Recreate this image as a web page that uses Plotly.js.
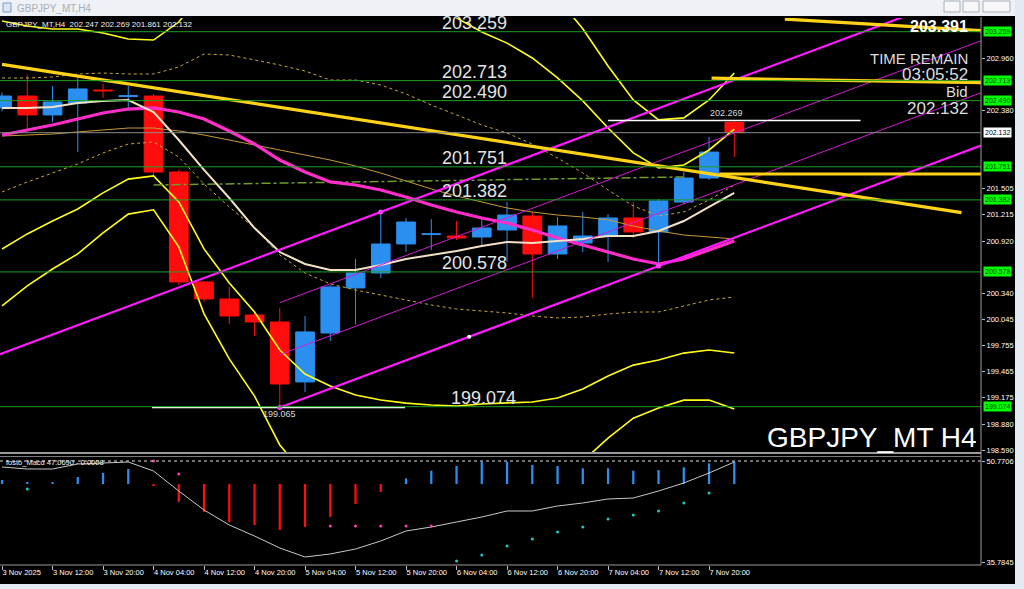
<!DOCTYPE html>
<html><head><meta charset="utf-8">
<script src="https://cdn.plot.ly/plotly-3.0.1.min.js"></script>
<style>html,body{margin:0;padding:0;background:#000;overflow:hidden}#chart{width:1024px;height:589px}</style>
</head><body><div id="chart"></div>
<script>
// ---------- data ----------
const xTickBars = [0,2,4,6,8,10,12,14,16,18,20,22,24,26,28];
const xTickLabels = ["3 Nov 2025","3 Nov 12:00","3 Nov 20:00","4 Nov 04:00","4 Nov 12:00","4 Nov 20:00","5 Nov 04:00","5 Nov 12:00","5 Nov 20:00","6 Nov 04:00","6 Nov 12:00","6 Nov 20:00","7 Nov 04:00","7 Nov 12:00","7 Nov 20:00"];

const candleOpen  = [202.408,202.541,202.330,202.463,202.608,202.535,202.541,201.693,200.466,200.276,200.097,200.019,199.350,199.896,200.399,200.566,200.890,200.995,200.979,200.968,201.046,201.202,200.778,200.901,200.979,201.180,201.024,201.358,201.626,202.247];
const candleHigh  = [202.580,202.776,202.653,202.742,202.675,202.653,202.564,201.720,200.477,200.410,200.131,200.175,200.086,200.432,200.722,201.247,201.180,201.169,201.146,201.169,201.358,201.247,201.191,201.247,201.225,201.358,201.392,201.693,202.084,202.269];
const candleLow   = [202.370,202.162,202.251,201.916,202.519,202.386,201.660,200.432,200.243,199.997,199.862,199.065,199.238,199.807,199.991,200.510,200.800,200.823,200.934,200.856,200.689,200.287,200.722,200.800,200.689,200.957,200.633,201.336,201.604,201.861];
const candleClose = [202.541,202.330,202.475,202.620,202.597,202.546,201.693,200.466,200.276,200.086,200.019,199.327,199.908,200.410,200.566,200.890,201.135,201.005,200.957,201.068,201.213,200.778,201.091,200.979,201.180,201.024,201.370,201.626,201.916,202.132];

const maMid  = [202.106,202.162,202.218,202.285,202.352,202.396,202.408,202.363,202.285,202.151,202.006,201.827,201.693,201.582,201.548,201.492,201.414,201.325,201.247,201.180,201.124,201.046,200.957,200.879,200.800,200.722,200.667,200.722,200.823,200.923];
const maSlow = [202.095,202.106,202.117,202.140,202.162,202.184,202.184,202.151,202.106,202.050,201.995,201.939,201.883,201.827,201.760,201.682,201.593,201.504,201.425,201.358,201.292,201.247,201.213,201.191,201.158,201.091,201.035,200.990,200.968,200.946];
const maFast = [202.408,202.408,202.419,202.463,202.486,202.497,202.363,202.050,201.716,201.403,201.068,200.800,200.667,200.600,200.600,200.655,200.722,200.767,200.812,200.867,200.912,200.901,200.923,200.946,200.979,200.979,201.035,201.146,201.303,201.459];

const bandOuterUpper = [204.014,203.902,203.826,203.791,203.690,203.569,203.545,203.869,204.460,204.695,204.820,205.007,205.074,204.996,205.064,205.008,204.864,204.673,204.496,204.294,204.136,203.926,203.636,203.291,202.876,202.498,202.275,202.297,202.497,202.798];
const bandInnerUpper = [203.378,203.322,203.290,203.289,203.244,203.178,203.166,203.367,203.735,203.847,203.882,203.947,203.947,203.858,203.892,203.836,203.714,203.557,203.413,203.256,203.132,202.966,202.743,202.487,202.184,201.906,201.739,201.772,201.939,202.173];
const dotUpper = [202.742,202.742,202.754,202.787,202.798,202.787,202.787,202.865,203.010,202.999,202.944,202.887,202.820,202.720,202.720,202.664,202.564,202.441,202.330,202.218,202.128,202.006,201.850,201.683,201.492,201.314,201.203,201.247,201.381,201.548];
const dotLower = [201.470,201.582,201.682,201.783,201.906,202.005,202.029,201.861,201.560,201.303,201.068,200.767,200.566,200.444,200.376,200.320,200.264,200.209,200.164,200.142,200.120,200.086,200.064,200.075,200.108,200.130,200.131,200.197,200.265,200.298];
const bandInnerLower = [200.834,201.002,201.146,201.281,201.460,201.614,201.650,201.359,200.835,200.455,200.130,199.707,199.439,199.306,199.204,199.148,199.114,199.093,199.081,199.104,199.116,199.126,199.171,199.271,199.416,199.538,199.595,199.672,199.707,199.673];
const bandOuterLower = [200.198,200.422,200.610,200.779,201.014,201.223,201.271,200.857,200.110,199.607,199.192,198.647,198.312,198.168,198.032,197.976,197.964,197.977,197.998,198.066,198.112,198.166,198.278,198.467,198.724,198.946,199.059,199.147,199.149,199.048];

// drawn objects: [bar, price] end points
const trendBars = [0, 38], trendPrices = [202.895, 201.240];
const goldTopBars = [31, 38.77], goldTopPrices = [203.40, 203.27];
const goldMidBars = [28.1, 38.77], goldMidPrices = [202.740, 202.690];
const goldLowBars = [28.4, 38.77], goldLowPrices = [201.671, 201.671];
const dashDotBars = [6, 27], dashDotPrices = [201.548, 201.638];
const chanUpperBars = [-0.08, 38.77], chanUpperPrices = [199.660, 203.749];
const chanLowerBars = [11, 38.77], chanLowerPrices = [199.065, 201.988];
const chanThin1Bars = [11, 38.77], chanThin1Prices = [200.235, 203.158];
const chanThin2Bars = [11, 38.77], chanThin2Prices = [199.655, 202.578];
const chanDotBars = [15, 26, 11], chanDotPrices = [201.247, 200.644, 199.065];
const midDotBars = [18.5], midDotPrices = [199.855];
const highLineBars = [24, 34], highLinePrice = 202.269;
const lowLineBars = [5.94, 15.96], lowLinePrice = 199.065;

const levelPrices = [203.259, 202.713, 202.490, 201.751, 201.382, 200.578, 199.074];
const levelLabels = ["203.259","202.713","202.490","201.751","201.382","200.578","199.074"];
const bidPrice = 202.132;
// scale values that are not covered by the price boxes
const priceTicks = [202.960,202.380,201.505,201.215,200.920,200.340,200.045,199.755,199.465,199.175,198.880,198.590];

const macdTicks = [50.7706, 35.7845];
const macdZero = 47.36;
const macdHist = [47.952,47.655,47.655,48.397,48.990,49.584,47.061,44.687,43.204,41.720,41.275,40.533,40.978,42.462,44.391,46.171,48.204,49.331,50.029,50.667,50.667,50.177,50.029,49.687,49.687,49.331,49.435,49.836,50.429,50.667];
const macdSignal = [49.880,49.584,49.584,50.326,50.474,50.622,49.287,46.320,43.501,41.275,39.643,37.863,36.528,36.973,37.715,38.902,40.385,40.979,41.721,42.462,43.352,43.352,44.094,44.540,45.133,45.281,46.320,47.507,48.990,50.622];
const cyanDotBars = [1,18,19,20,21,22,23,24,25,26,27,28];
const cyanDotVals = [46.616,35.934,36.824,38.160,39.198,40.237,40.979,42.166,42.759,43.352,44.540,46.023];
const pinkDotBars = [6,7,13,14,15,16,17];
const pinkDotVals = [50.77,48.842,41.127,41.127,41.127,41.127,41.127];

const headerText = "GBPJPY_MT,H4  202.247 202.269 201.861 202.132";
const windowTitle = "GBPJPY_MT,H4";
const infoTop = "203.391";
const infoLines = ["TIME REMAIN","03:05:52","Bid","202.132"];
const symbolText = "GBPJPY_MT H4";
const macdLabel = "fosto_Macd 47.0690 - 0.0008";

// ---------- helpers ----------
const W = 1024, H = 589;
const px = x => x / W, py = y => 1 - y / H;
const FONT = "Liberation Sans, Arial, sans-serif";
const bars = candleOpen.map((_, i) => i);
const isUp = i => candleClose[i] >= candleOpen[i];
const BLUE = "#2b8ff0", RED = "#ff0d0d";

function wick(filter){
  const xs = [], ys = [];
  bars.forEach(i => { if (filter(i)) { xs.push(i, i, null); ys.push(candleLow[i], candleHigh[i], null); } });
  return {xs, ys};
}
function body(filter){
  const xs = [], base = [], len = [];
  bars.forEach(i => { if (filter(i)) { xs.push(i); base.push(Math.min(candleOpen[i], candleClose[i])); len.push(Math.max(Math.abs(candleClose[i]-candleOpen[i]), 0.004)); } });
  return {xs, base, len};
}
const wu = wick(isUp), wd = wick(i => !isUp(i));
const bu = body(isUp), bd = body(i => !isUp(i));
const line = (x, y, color, width, dash, ya) => ({type:"scatter", mode:"lines", x, y, xaxis:"x", yaxis: ya || "y", line:{color, width, dash: dash || "solid"}, hoverinfo:"skip", connectgaps:false});

const traces = [
  line(wu.xs, wu.ys, BLUE, 1),
  line(wd.xs, wd.ys, RED, 1),
  {type:"bar", x:bu.xs, base:bu.base, y:bu.len, width:0.74, marker:{color:BLUE, line:{color:BLUE, width:1}}, xaxis:"x", yaxis:"y", hoverinfo:"skip"},
  {type:"bar", x:bd.xs, base:bd.base, y:bd.len, width:0.74, marker:{color:RED, line:{color:RED, width:1}}, xaxis:"x", yaxis:"y", hoverinfo:"skip"},
  line(bars, dotUpper, "#c9a838", 1, "dot"),
  line(bars, dotLower, "#c9a838", 1, "dot"),
  line(bars, bandInnerUpper, "#ffff1a", 1.6),
  line(bars, bandInnerLower, "#ffff1a", 1.6),
  line(bars, bandOuterUpper, "#ffff1a", 1.6),
  line(bars, bandOuterLower, "#ffff1a", 1.6),
  line(bars, maSlow, "#c79a3a", 1),
  line(dashDotBars, dashDotPrices, "#6f9a2c", 1.5, "dashdot"),
  line(bars, maMid, "#ff2ec8", 3.2),
  line(bars, maFast, "#f3e3c6", 2),
  line(chanUpperBars, chanUpperPrices, "#ff1aff", 2.2),
  line(chanLowerBars, chanLowerPrices, "#ff1aff", 2.2),
  line(chanThin1Bars, chanThin1Prices, "#d21ad2", 1),
  line(chanThin2Bars, chanThin2Prices, "#d21ad2", 1),
  line(trendBars, trendPrices, "#ffd21a", 3.2),
  line(goldTopBars, goldTopPrices, "#ffd21a", 3.2),
  line(goldMidBars, goldMidPrices, "#ffd21a", 3.2),
  line(goldLowBars, goldLowPrices, "#ffd21a", 3.2),
  line(highLineBars, [highLinePrice, highLinePrice], "#ffffff", 1.5),
  line(lowLineBars, [lowLinePrice, lowLinePrice], "#ffffff", 1.5),
  {type:"scatter", mode:"markers", x:chanDotBars, y:chanDotPrices, marker:{color:"#ff40ff", size:5}, xaxis:"x", yaxis:"y", hoverinfo:"skip"},
  {type:"scatter", mode:"markers", x:midDotBars, y:midDotPrices, marker:{color:"#ffffff", size:4}, xaxis:"x", yaxis:"y", hoverinfo:"skip"},
  // MACD pane
  {type:"bar", x:bars, base:macdHist.map(() => macdZero), y:macdHist.map(v => v - macdZero), width:0.09,
   marker:{color:macdHist.map(v => v >= macdZero ? BLUE : RED)}, xaxis:"x", yaxis:"y2", hoverinfo:"skip"},
  line(bars, macdSignal, "#c8c8c8", 1, "solid", "y2"),
  {type:"scatter", mode:"markers", x:cyanDotBars, y:cyanDotVals, marker:{color:"#1fc8c8", size:3}, xaxis:"x", yaxis:"y2", hoverinfo:"skip"},
  {type:"scatter", mode:"markers", x:pinkDotBars, y:pinkDotVals, marker:{color:"#ff3fb0", size:3}, xaxis:"x", yaxis:"y2", hoverinfo:"skip"}
];

const XR = 981 / W;
const shapes = [];
levelPrices.forEach(p => shapes.push({type:"line", xref:"paper", yref:"y", x0:0, x1:XR, y0:p, y1:p, line:{color:"#1f9f1f", width:1}}));
shapes.push({type:"line", xref:"paper", yref:"y", x0:0, x1:XR, y0:bidPrice, y1:bidPrice, line:{color:"#8a8a8a", width:1}});
shapes.push({type:"line", xref:"paper", yref:"y2", x0:0, x1:XR, y0:macdTicks[0], y1:macdTicks[0], line:{color:"#e0e0e0", width:1, dash:"dot"}});
// pane frames
shapes.push({type:"line", xref:"paper", yref:"paper", x0:0, x1:XR, y0:py(453), y1:py(453), line:{color:"#9a9a9a", width:2}});
shapes.push({type:"line", xref:"paper", yref:"paper", x0:0, x1:XR, y0:py(456.5), y1:py(456.5), line:{color:"#7a7a7a", width:1}});
shapes.push({type:"line", xref:"paper", yref:"paper", x0:0, x1:XR, y0:py(565), y1:py(565), line:{color:"#9a9a9a", width:1}});
shapes.push({type:"line", xref:"paper", yref:"paper", x0:XR, x1:XR, y0:py(565), y1:py(17), line:{color:"#9a9a9a", width:1}});
// window chrome
shapes.push({type:"rect", xref:"paper", yref:"paper", x0:0, x1:1, y0:py(16), y1:1, fillcolor:"#eef1f5", line:{width:0}});
shapes.push({type:"rect", xref:"paper", yref:"paper", x0:px(1015), x1:1, y0:0, y1:1, fillcolor:"#e3eaf2", line:{width:0}});
shapes.push({type:"rect", xref:"paper", yref:"paper", x0:0, x1:1, y0:0, y1:py(584), fillcolor:"#e3eaf2", line:{width:0}});
shapes.push({type:"rect", xref:"paper", yref:"paper", x0:px(3), x1:px(11), y0:py(12), y1:py(3), fillcolor:"#dbe6f3", line:{color:"#7a9cc8", width:1}});
[[944,960],[963,979],[983,1010]].forEach(b => shapes.push({type:"rect", xref:"paper", yref:"paper", x0:px(b[0]), x1:px(b[1]), y0:py(12), y1:py(1), fillcolor:"#f7f7f7", line:{color:"#a8b0b8", width:1}}));

const ann = [];
const txt = (o) => Object.assign({showarrow:false, font:{family:FONT, size:7, color:"#ffffff"}}, o);
ann.push(txt({xref:"paper", yref:"paper", x:px(15), y:py(8), xanchor:"left", yanchor:"middle", text:windowTitle, font:{family:FONT, size:10, color:"#a9afb6"}}));
ann.push(txt({xref:"paper", yref:"paper", x:px(4), y:py(25), xanchor:"left", yanchor:"middle", text:headerText, font:{family:FONT, size:8, color:"#f0f0f0"}}));
levelPrices.forEach((p, k) => {
  ann.push(txt({xref:"x", yref:"y", x: k === 6 ? 19.05 : 18.73, y:p, yshift:9, xanchor:"center", yanchor:"middle", text:levelLabels[k], font:{family:FONT, size:18, color:"#e4e4e4"}}));
  ann.push(txt({xref:"paper", yref:"y", x:px(983), y:p, xanchor:"left", yanchor:"middle", text:levelLabels[k], bgcolor:"#00ff00", borderpad:1, font:{family:FONT, size:7, color:"#003300"}}));
});
ann.push(txt({xref:"paper", yref:"y", x:px(983), y:bidPrice, xanchor:"left", yanchor:"middle", text:bidPrice.toFixed(3), bgcolor:"#ffffff", borderpad:1, font:{family:FONT, size:7, color:"#000000"}}));
ann.push(txt({xref:"x", yref:"y", x:28.7, y:highLinePrice, yshift:7, xanchor:"center", yanchor:"middle", text:highLinePrice.toFixed(3), font:{family:FONT, size:9, color:"#d8d8d8"}}));
ann.push(txt({xref:"x", yref:"y", x:11, y:lowLinePrice, yshift:-7, xanchor:"center", yanchor:"middle", text:lowLinePrice.toFixed(3), font:{family:FONT, size:9, color:"#d8d8d8"}}));
ann.push(txt({xref:"paper", yref:"paper", x:px(970), y:py(27), xanchor:"right", yanchor:"middle", text:"<b>"+infoTop+"</b>", font:{family:FONT, size:16, color:"#ffffff"}}));
const infoY = [59, 75, 91, 109], infoSize = [15, 17, 15, 17];
infoLines.forEach((t, k) => ann.push(txt({xref:"paper", yref:"paper", x:px(970), y:py(infoY[k]), xanchor:"right", yanchor:"middle", text:t, font:{family:FONT, size:infoSize[k], color:"#dcdcdc"}})));
ann.push(txt({xref:"paper", yref:"paper", x:px(979), y:py(437), xanchor:"right", yanchor:"middle", text:symbolText, font:{family:FONT, size:28, color:"#ffffff"}}));
ann.push(txt({xref:"paper", yref:"paper", x:px(4), y:py(462), xanchor:"left", yanchor:"middle", text:macdLabel, font:{family:FONT, size:7.5, color:"#f0f0f0"}}));

const tickFont = {family:FONT, size:7.5, color:"#ffffff"};
const layout = {
  width:W, height:H, margin:{l:0, r:0, t:0, b:0},
  paper_bgcolor:"#000000", plot_bgcolor:"#000000",
  showlegend:false, barmode:"overlay",
  xaxis:{domain:[0, XR], range:[-0.08, 38.77], anchor:"y2", tickmode:"array", tickvals:xTickBars, ticktext:xTickLabels,
         ticks:"outside", ticklen:4, tickcolor:"#bbbbbb", tickfont:tickFont, ticklabelposition:"outside right",
         showgrid:false, zeroline:false, showline:false},
  yaxis:{domain:[py(453), py(18)], range:[198.557, 203.412], anchor:"x", side:"right", tickmode:"array",
         tickvals:priceTicks, ticktext:priceTicks.map(v => v.toFixed(3)), ticks:"outside", ticklen:3, tickcolor:"#bbbbbb",
         tickfont:tickFont, showgrid:false, zeroline:false, showline:false},
  yaxis2:{domain:[py(565), py(456)], range:[35.34, 51.512], anchor:"x", side:"right", tickmode:"array",
         tickvals:macdTicks, ticktext:macdTicks.map(v => v.toFixed(4)), ticks:"outside", ticklen:3, tickcolor:"#bbbbbb",
         tickfont:tickFont, showgrid:false, zeroline:false, showline:false},
  shapes, annotations:ann
};
Plotly.newPlot("chart", traces, layout, {staticPlot:true, displayModeBar:false});
</script></body></html>
